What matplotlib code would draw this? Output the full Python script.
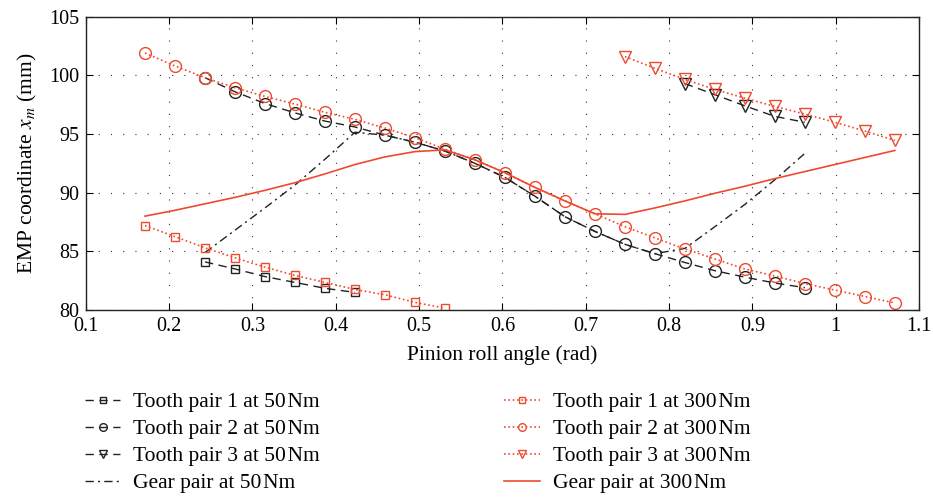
import matplotlib
import matplotlib.pyplot as plt

matplotlib.use("Agg")

plt.rcParams['font.family'] = ['Liberation Serif', 'DejaVu Serif']
plt.rcParams['mathtext.fontset'] = 'stix'

RED = '#EF4A2F'
BLACK = '#222222'
SP = '\u200a'  # narrow space between value and unit

# Pinion roll angle samples (rad)
roll_angle = [0.171, 0.207, 0.243, 0.279, 0.315, 0.351, 0.387, 0.423, 0.459,
              0.495, 0.531, 0.567, 0.603, 0.639, 0.675, 0.711, 0.747, 0.783,
              0.819, 0.855, 0.891, 0.927, 0.963, 0.999, 1.035, 1.071]

# 50 Nm
tp1_50_x = roll_angle[2:8]
tp1_50_y = [84.1, 83.5, 82.85, 82.35, 81.85, 81.5]
tp2_50_x = roll_angle[2:23]
tp2_50_y = [99.8, 98.6, 97.6, 96.8, 96.1, 95.6, 94.9, 94.3, 93.55, 92.5, 91.3,
            89.7, 87.95, 86.7, 85.6, 84.8, 84.05, 83.35, 82.8, 82.3, 81.9]
tp3_50_x = roll_angle[18:23]
tp3_50_y = [99.3, 98.35, 97.4, 96.5, 96.0]
gear_50_x = roll_angle[2:23]
gear_50_y = [84.9, 86.8, 88.7, 90.65, 92.85, 95.15, 94.9, 94.3, 93.55, 92.5,
             91.3, 89.7, 87.95, 86.7, 85.6, 84.8, 85.25, 87.1, 89.0, 91.1, 93.35]

# 300 Nm
tp1_300_x = roll_angle[0:11]
tp1_300_y = [87.2, 86.25, 85.3, 84.45, 83.65, 82.95, 82.35, 81.75, 81.3, 80.65, 80.15]
tp2_300_x = roll_angle
tp2_300_y = [101.9, 100.8, 99.8, 98.95, 98.2, 97.55, 96.85, 96.25, 95.5, 94.7,
             93.7, 92.8, 91.7, 90.45, 89.3, 88.2, 87.1, 86.15, 85.2, 84.35,
             83.5, 82.9, 82.25, 81.7, 81.15, 80.6]
tp3_300_x = roll_angle[16:]
tp3_300_y = [101.6, 100.6, 99.65, 98.8, 98.05, 97.35, 96.7, 96.0, 95.25, 94.45]
gear_300_x = roll_angle
gear_300_y = [88.0, 88.5, 89.05, 89.6, 90.2, 90.85, 91.6, 92.4, 93.05, 93.5,
              93.65, 92.8, 91.7, 90.45, 89.3, 88.2, 88.15, 88.7, 89.3, 89.95,
              90.55, 91.2, 91.8, 92.4, 93.0, 93.6]

x_ticks = [0.1, 0.2, 0.3, 0.4, 0.5, 0.6, 0.7, 0.8, 0.9, 1.0, 1.1]
x_tick_labels = ['0.1', '0.2', '0.3', '0.4', '0.5', '0.6', '0.7', '0.8', '0.9', '1', '1.1']
y_ticks = [80, 85, 90, 95, 100, 105]

fig = plt.figure(figsize=(9.33, 4.98), dpi=100)
ax = fig.add_axes([0.092, 0.3775, 0.893, 0.589])

lw = 1.0
dash = (0, (6, 4))
h1, = ax.plot(tp1_50_x, tp1_50_y, color=BLACK, lw=lw, ls=dash, marker='s', ms=6,
              mfc='none', mec=BLACK, mew=1.0, label=f'Tooth pair 1 at 50{SP}Nm')
h2, = ax.plot(tp2_50_x, tp2_50_y, color=BLACK, lw=lw, ls=dash, marker='o', ms=8.5,
              mfc='none', mec=BLACK, mew=1.0, label=f'Tooth pair 2 at 50{SP}Nm')
h3, = ax.plot(tp3_50_x, tp3_50_y, color=BLACK, lw=lw, ls=dash, marker='v', ms=8.5,
              mfc='none', mec=BLACK, mew=1.0, label=f'Tooth pair 3 at 50{SP}Nm')
h4, = ax.plot(gear_50_x, gear_50_y, color=BLACK, lw=lw, ls=(0, (6, 3, 1.5, 3)),
              label=f'Gear pair at 50{SP}Nm')

dot = (0, (1, 1.6))
h5, = ax.plot(tp1_300_x, tp1_300_y, color=RED, lw=1.2, ls=dot, marker='s', ms=6,
              mfc='none', mec=RED, mew=1.0, label=f'Tooth pair 1 at 300{SP}Nm')
h6, = ax.plot(tp2_300_x, tp2_300_y, color=RED, lw=1.2, ls=dot, marker='o', ms=8.5,
              mfc='none', mec=RED, mew=1.0, label=f'Tooth pair 2 at 300{SP}Nm')
h7, = ax.plot(tp3_300_x, tp3_300_y, color=RED, lw=1.2, ls=dot, marker='v', ms=8.5,
              mfc='none', mec=RED, mew=1.0, label=f'Tooth pair 3 at 300{SP}Nm')
h8, = ax.plot(gear_300_x, gear_300_y, color=RED, lw=1.2, ls='-',
              label=f'Gear pair at 300{SP}Nm')

ax.set_xlim(0.1, 1.1)
ax.set_ylim(80, 105)
ax.set_xticks(x_ticks)
ax.set_xticklabels(x_tick_labels)
ax.set_yticks(y_ticks)
ax.tick_params(direction='in', top=True, right=True, length=5, labelsize=14.5, pad=5)
ax.grid(True, color='#333333', ls=(0, (1, 10)), lw=0.8)
for s in ax.spines.values():
    s.set_linewidth(1.0)
    s.set_color('#222222')

ax.set_xlabel('Pinion roll angle (rad)', fontsize=15.5, labelpad=7)
ax.set_ylabel('EMP coordinate $x_m$ (mm)', fontsize=15.5, labelpad=7)

fig.legend(handles=[h1, h2, h3, h4, h5, h6, h7, h8], ncol=2, frameon=False,
           loc='upper left', bbox_to_anchor=(0.091, 0.212), fontsize=15.5,
           handlelength=1.65, handletextpad=0.6, columnspacing=8.55,
           labelspacing=0.32, markerscale=0.65, borderaxespad=0,
           borderpad=0)

fig.savefig('out.png', dpi=100)
